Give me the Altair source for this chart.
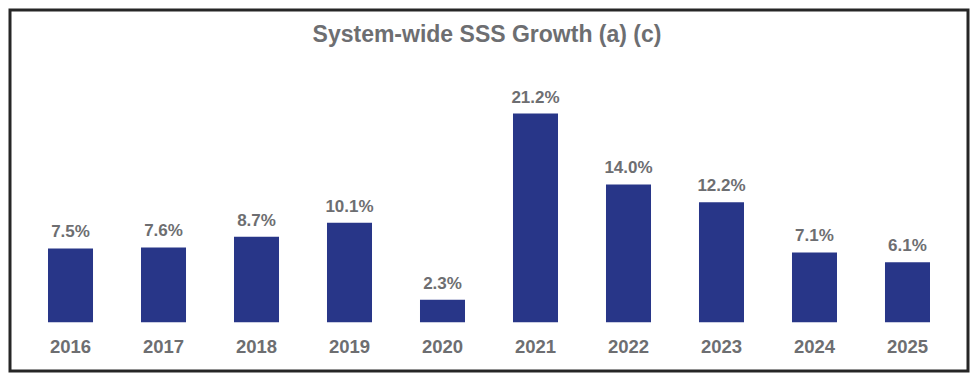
import altair as alt
import pandas as pd

years = ["2016", "2017", "2018", "2019", "2020", "2021", "2022", "2023", "2024", "2025"]
growth = [7.5, 7.6, 8.7, 10.1, 2.3, 21.2, 14.0, 12.2, 7.1, 6.1]
labels = ["7.5%", "7.6%", "8.7%", "10.1%", "2.3%", "21.2%", "14.0%", "12.2%", "7.1%", "6.1%"]
title_text = "System-wide SSS Growth (a) (c)"

df = pd.DataFrame({"year": years, "growth": growth, "label": labels})

GRAY = "#6d6e71"
BAR = "#283688"
FONT = "Liberation Sans"

W, H = 958, 361

xs = alt.X("year:N", sort=years, axis=None,
           scale=alt.Scale(type="band", paddingInner=0.516, paddingOuter=0.4086))
ys = alt.Y("growth:Q", axis=None, scale=alt.Scale(domain=[-4.94, 31.71], nice=False, zero=False))

base = alt.Chart(df)

bars = base.mark_bar(color=BAR).encode(
    x=xs, y=ys, y2=alt.datum(0)
)

vals = base.mark_text(font=FONT, fontSize=17, fontWeight="bold", color=GRAY,
                      baseline="alphabetic", dy=-11).encode(
    x=xs, y=ys, text="label:N"
)

yr = base.mark_text(font=FONT, fontSize=18.5, fontWeight="bold", color=GRAY,
                    baseline="alphabetic").encode(
    x=xs, y=alt.value(342.7), text="year:N"
)

title = alt.Chart(pd.DataFrame({"t": [title_text]})).mark_text(
    font=FONT, fontSize=23, fontWeight="bold", color=GRAY, baseline="alphabetic"
).encode(x=alt.value(477), y=alt.value(31.7), text="t:N")

chart = alt.layer(bars, vals, yr, title).properties(
    width=W, height=H, padding=2, background="white",
    autosize=alt.AutoSizeParams(type="none")
).configure_view(stroke="#262626", strokeWidth=3)

chart.save("out.html", embed_options={"renderer": "svg", "actions": False})
